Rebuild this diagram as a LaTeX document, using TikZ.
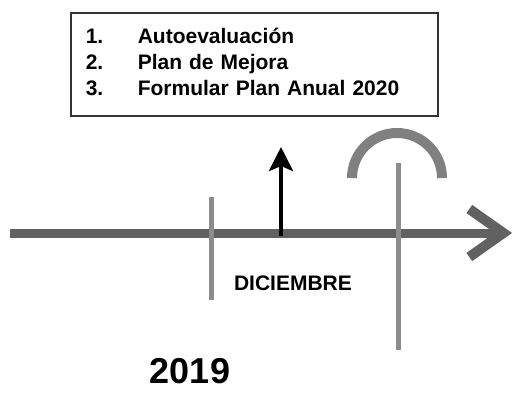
\documentclass[tikz,border=0pt]{standalone}
\usepackage{fontspec}
\setmainfont{Liberation Sans}
\usepackage{xcolor}
\usepackage{tikz}
\usetikzlibrary{arrows.meta,positioning}

\begin{document}
\begin{tikzpicture}[x=1pt, y=-1pt,
    every node/.style={font=\bfseries\fontsize{21}{26}\selectfont},
    listbox/.style={draw=black!80, line width=1.6pt, anchor=north west,
      minimum width=367pt, minimum height=103pt, inner xsep=15pt,
      text width=337pt, align=left},
    axis/.style={draw=black!62, line width=9pt,
      -{Straight Barb[length=34pt, width=48pt, line width=10pt]}},
    mark line/.style={draw=black!45, line width=5pt},
    goal/.style={draw=black, line width=4.5pt,
      -{Stealth[length=24pt, width=24pt, inset=5pt]}}]
    \useasboundingbox (0,0) rectangle (516,393);
    % Box with tasks
    \node[listbox] (tasks) at (70,12) {%
      \begin{tabular}{@{}p{52pt}@{}l@{}}
        1. & Autoevaluación\\
        2. & Plan de Mejora\\
        3. & Formular Plan Anual 2020
      \end{tabular}};
    % Timeline
    \coordinate (tstart) at (10,233);
    \coordinate (tend) at (512,233);
    \draw[axis] (tstart) -- (tend);
    % Marks
    \coordinate (m1top) at (211,197);
    \coordinate (m1bot) at (211,300);
    \draw[mark line] (m1top) -- (m1bot);
    \coordinate (m2top) at (398,163);
    \coordinate (m2bot) at (398,350);
    \draw[mark line] (m2top) -- (m2bot);
    \draw[draw=black!50, line width=10pt] (352,178) arc[start angle=180, end angle=360, radius=45];
    % December arrow
    \coordinate (dic) at (281,236);
    \coordinate (meta) at (281,147);
    \draw[goal] (dic) -- (meta);
    % Labels
    \node (month) at (293,283) {DICIEMBRE};
    \node[font=\bfseries\fontsize{36}{40}\selectfont] (year) at (190,371) {2019};
\end{tikzpicture}
\end{document}
